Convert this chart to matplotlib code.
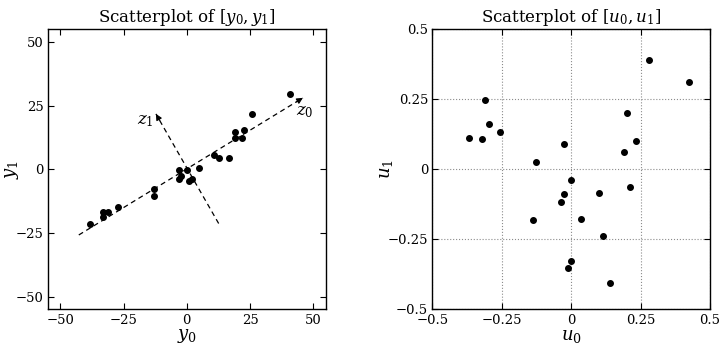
import matplotlib
matplotlib.use('Agg')
import matplotlib.pyplot as plt
import numpy as np

plt.rcParams['font.family'] = 'DejaVu Serif'
plt.rcParams['mathtext.fontset'] = 'dejavuserif'

# data
y0 = [40.7, 25.8, 22.7, 18.9, 18.9, 21.8, 10.8, 12.9, 16.8, 4.9, 0.0, -3.0,
      -3.0, -2.1, 0.9, 2.0, -13.1, -13.1, -27.2, -31.1, -33.1, -33.1, -38.1]
y1 = [29.5, 21.5, 15.5, 14.5, 12.3, 12.4, 5.4, 4.3, 4.3, 0.4, -0.5, -0.5,
      -3.7, -2.7, -4.5, -3.7, -7.6, -10.6, -14.7, -16.8, -16.8, -18.8, -21.6]

u0 = [-0.368, -0.320, -0.310, -0.296, -0.258, -0.127, -0.139, -0.025, -0.002,
      -0.026, -0.038, 0.037, 0.102, 0.113, -0.001, -0.013, 0.141, 0.191, 0.200,
      0.233, 0.213, 0.280, 0.423]
u1 = [0.112, 0.108, 0.246, 0.162, 0.132, 0.027, -0.181, 0.090, -0.037, -0.090,
      -0.118, -0.177, -0.084, -0.238, -0.327, -0.354, -0.405, 0.063, 0.201,
      0.102, -0.063, 0.390, 0.312]

# principal axes drawn as dashed arrows: (start, end)
z0_axis = [(-42.7, -25.8), (45.9, 28.0)]
z1_axis = [(12.6, -21.3), (-12.2, 21.7)]
z0_label = (46.8, 22.8)
z1_label = (-16.3, 19.2)

ticks_y = [-50, -25, 0, 25, 50]
tick_labels_y = ['\u221250', '\u221225', '0', '25', '50']
ticks_u = [-0.5, -0.25, 0, 0.25, 0.5]
tick_labels_u = ['\u22120.5', '\u22120.25', '0', '0.25', '0.5']


def style_axes(ax):
    ax.tick_params(direction='in', top=True, right=True, length=4,
                   width=0.8, labelsize=9.5, pad=3)
    for sp in ax.spines.values():
        sp.set_linewidth(1.0)


def dashed_arrow(ax, seg):
    (xs, ys), (xe, ye) = seg
    ax.plot([xs, xe], [ys, ye], 'k--', lw=0.9, dashes=(4, 3))
    d = np.array([xe - xs, ye - ys])
    d = d / np.hypot(*d)
    back = (xe - 3 * d[0], ye - 3 * d[1])
    ax.annotate('', xy=(xe, ye), xytext=back,
                arrowprops=dict(arrowstyle='-|>', color='k', lw=0.8,
                                mutation_scale=9, shrinkA=0, shrinkB=0))


fig = plt.figure(figsize=(7.19, 3.5), dpi=100)

ax1 = fig.add_axes([0.0663, 0.116, 0.387, 0.801])
ax1.scatter(y0, y1, s=16, c='k', zorder=3)
dashed_arrow(ax1, z0_axis)
dashed_arrow(ax1, z1_axis)
ax1.text(*z0_label, '$z_0$', fontsize=12, ha='center', va='center')
ax1.text(*z1_label, '$z_1$', fontsize=12, ha='center', va='center')
ax1.set_xlim(-55, 55)
ax1.set_ylim(-55, 55)
ax1.set_xticks(ticks_y)
ax1.set_yticks(ticks_y)
ax1.set_xticklabels(tick_labels_y)
ax1.set_yticklabels(tick_labels_y)
ax1.set_xlabel('$y_0$', fontsize=13, labelpad=0)
ax1.set_ylabel('$y_1$', fontsize=13)
ax1.yaxis.set_label_coords(-0.097, 0.5)
ax1.set_title('Scatterplot of $[y_0, y_1]$', fontsize=12, pad=5)
style_axes(ax1)

ax2 = fig.add_axes([0.6013, 0.116, 0.3862, 0.801])
ax2.scatter(u0, u1, s=16, c='k', zorder=3)
ax2.set_xlim(-0.5, 0.5)
ax2.set_ylim(-0.5, 0.5)
ax2.set_xticks(ticks_u)
ax2.set_yticks(ticks_u)
ax2.set_xticklabels(tick_labels_u)
ax2.set_yticklabels(tick_labels_u)
ax2.grid(True, linestyle=':', color='0.55', lw=0.8)
ax2.set_xlabel('$u_0$', fontsize=13, labelpad=0)
ax2.set_ylabel('$u_1$', fontsize=13)
ax2.yaxis.set_label_coords(-0.134, 0.5)
ax2.set_title('Scatterplot of $[u_0, u_1]$', fontsize=12, pad=5)
style_axes(ax2)

fig.savefig('out.png', dpi=100)
